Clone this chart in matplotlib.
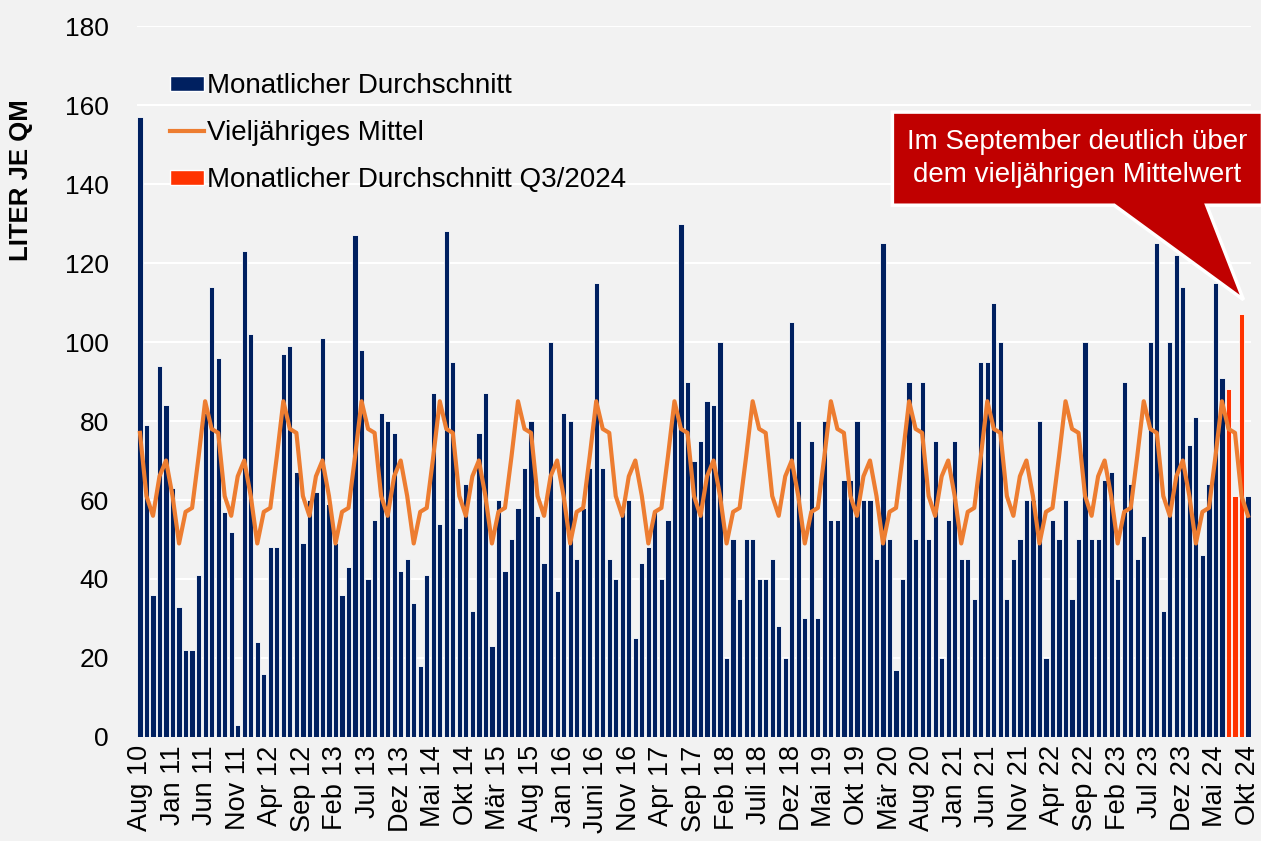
import numpy as np
import matplotlib.pyplot as plt
from matplotlib.patches import Patch, Polygon
from matplotlib.lines import Line2D

plt.rcParams['font.family'] = ['Liberation Sans', 'DejaVu Sans']

#%% Daten: Monatlicher Niederschlag (Liter je qm), Aug 2010 - Okt 2024
n_2010 = [157, 79, 36, 94, 84]  # Aug - Dez
n_2011 = [63, 33, 22, 22, 41, 82, 114, 96, 57, 52, 3, 123]
n_2012 = [102, 24, 16, 48, 48, 97, 99, 67, 49, 60, 62, 101]
n_2013 = [59, 49, 36, 43, 127, 98, 40, 55, 82, 80, 77, 42]
n_2014 = [45, 34, 18, 41, 87, 54, 128, 95, 53, 64, 32, 77]
n_2015 = [87, 23, 60, 42, 50, 58, 68, 80, 56, 44, 100, 37]
n_2016 = [82, 80, 45, 58, 68, 115, 68, 45, 40, 57, 60, 25]
n_2017 = [44, 48, 57, 40, 55, 83, 130, 90, 70, 75, 85, 84]
n_2018 = [100, 20, 50, 35, 50, 50, 40, 40, 45, 28, 20, 105]
n_2019 = [80, 30, 75, 30, 80, 55, 55, 65, 65, 80, 60, 60]
n_2020 = [45, 125, 50, 17, 40, 90, 50, 90, 50, 75, 20, 55]
n_2021 = [75, 45, 45, 35, 95, 95, 110, 100, 35, 45, 50, 60]
n_2022 = [60, 80, 20, 55, 50, 60, 35, 50, 100, 50, 50, 65]
n_2023 = [67, 40, 90, 64, 45, 51, 100, 125, 32, 100, 122, 114]
n_2024 = [74, 81, 46, 64, 115, 91, 88, 61, 107, 61]  # Jan - Okt

# vieljähriges Mittel je Kalendermonat (Jan - Dez)
mittel = [61, 49, 57, 58, 71, 85, 78, 77, 61, 56, 66, 70]

# Q3/2024 hervorgehoben
q3_2024 = [(2024, 7), (2024, 8), (2024, 9)]

tick_labels = ['Aug 10', 'Jan 11', 'Jun 11', 'Nov 11', 'Apr 12', 'Sep 12', 'Feb 13',
               'Jul 13', 'Dez 13', 'Mai 14', 'Okt 14', 'Mär 15', 'Aug 15', 'Jan 16',
               'Juni 16', 'Nov 16', 'Apr 17', 'Sep 17', 'Feb 18', 'Juli 18', 'Dez 18',
               'Mai 19', 'Okt 19', 'Mär 20', 'Aug 20', 'Jan 21', 'Jun 21', 'Nov 21',
               'Apr 22', 'Sep 22', 'Feb 23', 'Jul 23', 'Dez 23', 'Mai 24', 'Okt 24']

#%% Reihen zusammensetzen
werte = (n_2010 + n_2011 + n_2012 + n_2013 + n_2014 + n_2015 + n_2016 + n_2017
         + n_2018 + n_2019 + n_2020 + n_2021 + n_2022 + n_2023 + n_2024)
monate = []
jahr, mon = 2010, 8
for _ in werte:
    monate.append((jahr, mon))
    mon += 1
    if mon > 12:
        mon, jahr = 1, jahr + 1

x = np.arange(len(werte))
mittel_reihe = [mittel[m - 1] for (j, m) in monate]
farben = ['#FF3300' if jm in q3_2024 else '#002060' for jm in monate]

#%% Plot
bg = '#F2F2F2'
fig = plt.figure(figsize=(12.61, 8.41), dpi=100, facecolor=bg)
ax = fig.add_axes([0.1084, 0.1237, 0.8839, 0.8453])
ax.set_facecolor(bg)

ax.bar(x, werte, width=0.8, color=farben, edgecolor='white', linewidth=0.6, zorder=2)
ax.plot(x, mittel_reihe, color='#ED7D31', linewidth=3, zorder=3)

ax.set_xlim(-0.5, len(werte) - 0.5)
ax.set_ylim(0, 180)
ax.set_yticks(np.arange(0, 181, 20))
ax.grid(axis='y', color='white', linewidth=1.5, zorder=0)
ax.set_axisbelow(True)
ax.set_xticks(x[::5])
ax.set_xticklabels(tick_labels, rotation=90, fontsize=19.5)
ax.tick_params(axis='x', length=0, pad=6)
ax.tick_params(axis='y', length=0, pad=20, labelsize=19)
for s in ax.spines.values():
    s.set_visible(False)

ax.set_ylabel('LITER JE QM', fontsize=18.5, fontweight='bold')
ax.yaxis.set_label_coords(-0.093, 0.783)

handles = [Patch(facecolor='#002060', edgecolor='white'),
           Line2D([0], [0], color='#ED7D31', linewidth=3),
           Patch(facecolor='#FF3300', edgecolor='white')]
ax.legend(handles, ['Monatlicher Durchschnitt', 'Vieljähriges Mittel',
                    'Monatlicher Durchschnitt Q3/2024'],
          loc='upper left', bbox_to_anchor=(0.0295, 0.934), frameon=False,
          fontsize=20, handlelength=1.25, handleheight=0.45, handletextpad=0.1,
          labelspacing=0.76, borderpad=0, borderaxespad=0)

# Hinweis-Box mit Zeiger auf September 2024
box = [(0.678, 0.879), (1.01, 0.879), (1.01, 0.748), (0.96, 0.748),
       (0.993, 0.615), (0.877, 0.748), (0.678, 0.748)]
ax.add_patch(Polygon(box, closed=True, transform=ax.transAxes, facecolor='#C00000',
                     edgecolor='white', linewidth=2.5, clip_on=False, zorder=5))
ax.text(0.844, 0.8136, 'Im September deutlich über\ndem vieljährigen Mittelwert',
        transform=ax.transAxes, ha='center', va='center', color='white',
        fontsize=20, linespacing=1.35, zorder=6)

fig.savefig('out.png', dpi=100, facecolor=bg)
